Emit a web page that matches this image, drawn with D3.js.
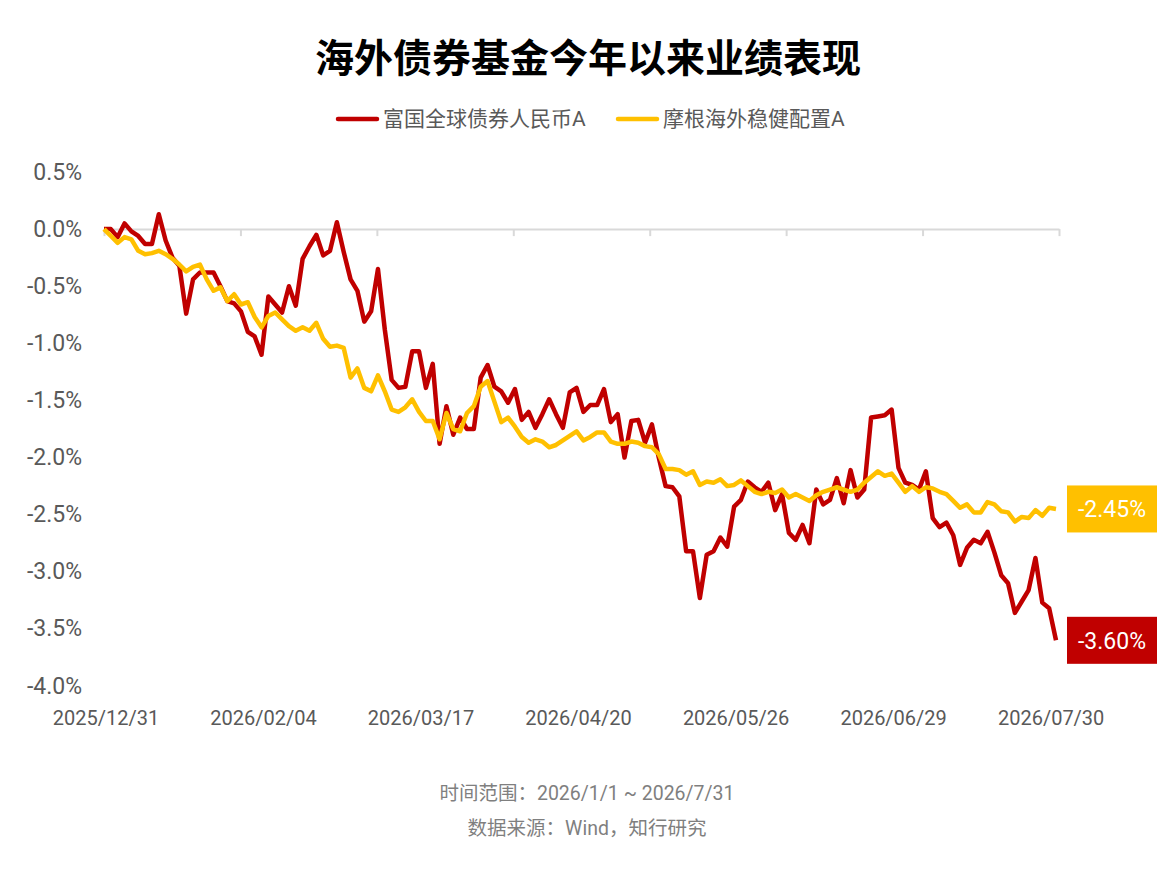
<!DOCTYPE html>
<html>
<head>
<meta charset="utf-8">
<script src="https://cdn.jsdelivr.net/npm/d3@7"></script>
<style>
  body { margin: 0; background: #fff; }
  svg text { font-family: Roboto, "Noto Sans CJK SC", sans-serif; }
</style>
</head>
<body>
<svg id="chart" width="1174" height="878"></svg>
<script>
// 基金名称
var seriesNames = ['富国全球债券人民币A', '摩根海外稳健配置A']
var seriesColors = ['#C00000', '#FFC000']

// 今年以来累计收益（%），按交易日
var fuguo = [
    0, 0, -0.07, 0.05, -0.02, -0.06, -0.13, -0.13, 0.13, -0.1,
    -0.25, -0.32, -0.74, -0.44, -0.38, -0.38, -0.38, -0.5, -0.63, -0.65,
    -0.72, -0.9, -0.94, -1.1, -0.59, -0.66, -0.73, -0.5, -0.67, -0.26,
    -0.15, -0.05, -0.23, -0.19, 0.06, -0.2, -0.44, -0.54, -0.81, -0.72,
    -0.35, -0.88, -1.32, -1.39, -1.38, -1.07, -1.07, -1.39, -1.18, -1.88,
    -1.55, -1.8, -1.65, -1.75, -1.75, -1.3, -1.19, -1.38, -1.42, -1.52,
    -1.4, -1.67, -1.6, -1.74, -1.62, -1.49, -1.62, -1.74, -1.43, -1.39,
    -1.6, -1.54, -1.54, -1.4, -1.69, -1.62, -2.0, -1.68, -1.67, -1.87,
    -1.71, -2.0, -2.25, -2.26, -2.34, -2.82, -2.82, -3.23, -2.85, -2.82,
    -2.7, -2.78, -2.43, -2.37, -2.21, -2.26, -2.3, -2.22, -2.46, -2.32,
    -2.66, -2.72, -2.59, -2.75, -2.28, -2.41, -2.37, -2.18, -2.4, -2.11,
    -2.35, -2.28, -1.65, -1.64, -1.63, -1.58, -2.09, -2.22, -2.24, -2.28,
    -2.12, -2.53, -2.61, -2.57, -2.68, -2.94, -2.79, -2.72, -2.75, -2.65,
    -2.83, -3.03, -3.1, -3.36, -3.26, -3.16, -2.88, -3.27, -3.32, -3.60
]
var jpm = [
    0, -0.06, -0.12, -0.07, -0.09, -0.19, -0.22, -0.21, -0.19, -0.22,
    -0.26, -0.31, -0.37, -0.33, -0.31, -0.44, -0.54, -0.51, -0.63, -0.57,
    -0.66, -0.64, -0.77, -0.86, -0.76, -0.73, -0.79, -0.85, -0.89, -0.86,
    -0.89, -0.82, -0.96, -1.03, -1.02, -1.04, -1.3, -1.22, -1.39, -1.42,
    -1.28, -1.42, -1.58, -1.6, -1.56, -1.49, -1.6, -1.68, -1.68, -1.84,
    -1.61, -1.75, -1.77, -1.61, -1.55, -1.38, -1.33, -1.51, -1.69, -1.65,
    -1.73, -1.82, -1.87, -1.84, -1.86, -1.91, -1.89, -1.85, -1.81, -1.77,
    -1.85, -1.82, -1.78, -1.78, -1.86, -1.88, -1.88, -1.86, -1.87, -1.9,
    -1.91, -1.97, -2.1, -2.1, -2.11, -2.15, -2.12, -2.24, -2.21, -2.22,
    -2.19, -2.25, -2.24, -2.2, -2.25, -2.3, -2.32, -2.3, -2.31, -2.28,
    -2.35, -2.32, -2.35, -2.38, -2.33, -2.3, -2.28, -2.26, -2.28, -2.3,
    -2.28, -2.22, -2.17, -2.12, -2.16, -2.14, -2.22, -2.3, -2.25, -2.3,
    -2.26, -2.27, -2.3, -2.32, -2.38, -2.44, -2.41, -2.48, -2.48, -2.39,
    -2.41, -2.47, -2.48, -2.56, -2.52, -2.53, -2.46, -2.51, -2.44, -2.45
]

// 横轴日期标签及其所在交易日序号
var xLabels = ['2025/12/31', '2026/02/04', '2026/03/17', '2026/04/20', '2026/05/26', '2026/06/29', '2026/07/30']
var xLabelIdx = [0, 23, 46, 69, 92, 115, 138]
var yTicks = [0.5, 0, -0.5, -1, -1.5, -2, -2.5, -3, -3.5, -4]

var svg = d3.select('#chart')
var plotL = 104, plotR = 1056, plotT = 172, plotB = 686, axisEnd = 1059

var x = d3.scaleLinear().domain([0, fuguo.length - 1]).range([plotL, plotR])
var y = d3.scaleLinear().domain([0.5, -4]).range([plotT, plotB])

// 负号用普通连字符，和原图一致
function pct(v, n) {
    return v.toFixed(n) + '%'
}

// 标题
svg.append('text')
    .attr('x', 588).attr('y', 55)
    .attr('text-anchor', 'middle')
    .attr('dominant-baseline', 'central')
    .style('font-family', '"Noto Sans CJK SC"')
    .style('font-weight', 700)
    .style('font-size', '39px')
    .attr('fill', '#000')
    .text('海外债券基金今年以来业绩表现')

// 图例
var legendX = [338, 618]
seriesNames.forEach(function(name, i) {
    var g = svg.append('g').attr('transform', 'translate(' + legendX[i] + ',119)')
    g.append('line')
        .attr('x1', 0).attr('x2', 39).attr('y1', 0).attr('y2', 0)
        .attr('stroke', seriesColors[i]).attr('stroke-width', 4.5).attr('stroke-linecap', 'round')
    g.append('text')
        .attr('x', 45).attr('y', 0)
        .attr('dominant-baseline', 'central')
        .style('font-size', '21px')
        .attr('fill', '#595959')
        .text(name)
})

// y 轴刻度文字
svg.append('g').selectAll('text')
    .data(yTicks)
    .enter().append('text')
    .attr('x', 82)
    .attr('y', function(d) { return y(d) })
    .attr('text-anchor', 'end')
    .attr('dominant-baseline', 'central')
    .style('font-size', '23px')
    .attr('fill', '#595959')
    .text(function(d) { return pct(d, 1) })

// x 轴线（在 0% 处），刻度向下
var xs = d3.scaleLinear().domain([0, 140]).range([plotL, axisEnd])
var xAxis = d3.axisBottom(xs)
    .tickValues(d3.range(0, 141, 20))
    .tickSize(7)
    .tickSizeOuter(0)
    .tickFormat('')
svg.append('g')
    .attr('transform', 'translate(0,' + y(0) + ')')
    .call(xAxis)
    .call(function(g) {
        g.select('.domain').attr('stroke', '#d9d9d9').attr('stroke-width', 2)
        g.selectAll('.tick line').attr('stroke', '#d9d9d9').attr('stroke-width', 2)
    })

// x 轴日期标签
svg.append('g').selectAll('text')
    .data(xLabels)
    .enter().append('text')
    .attr('x', function(d, i) { return x(xLabelIdx[i]) + 2 })
    .attr('y', 718)
    .attr('text-anchor', 'middle')
    .attr('dominant-baseline', 'central')
    .style('font-size', '20px')
    .attr('fill', '#595959')
    .text(function(d) { return d })

// 折线（后一条画在上面）
var line = d3.line()
    .x(function(d, i) { return x(i) })
    .y(function(d) { return y(d) })

var allSeries = [fuguo, jpm]
allSeries.forEach(function(s, k) {
    svg.append('path')
        .datum(s)
        .attr('d', line)
        .attr('fill', 'none')
        .attr('stroke', seriesColors[k])
        .attr('stroke-width', 4.5)
        .attr('stroke-linejoin', 'round')
})

// 末值标签
allSeries.forEach(function(s, k) {
    var v = s[s.length - 1]
    var g = svg.append('g').attr('transform', 'translate(1067,' + y(v) + ')')
    g.append('rect')
        .attr('x', 0).attr('y', -23.5)
        .attr('width', 90).attr('height', 47)
        .attr('fill', seriesColors[k])
    g.append('text')
        .attr('x', 45).attr('y', 1)
        .attr('text-anchor', 'middle')
        .attr('dominant-baseline', 'central')
        .style('font-size', '23px')
        .attr('fill', '#fff')
        .text(pct(v, 2))
})

// 注释
var notes = ['时间范围：2026/1/1 ~ 2026/7/31', '数据来源：Wind，知行研究']
notes.forEach(function(t, i) {
    svg.append('text')
        .attr('x', 587).attr('y', 793 + i * 35)
        .attr('text-anchor', 'middle')
        .attr('dominant-baseline', 'central')
        .style('font-size', '19.5px')
        .attr('fill', '#7f7f7f')
        .text(t)
})
</script>
</body>
</html>
